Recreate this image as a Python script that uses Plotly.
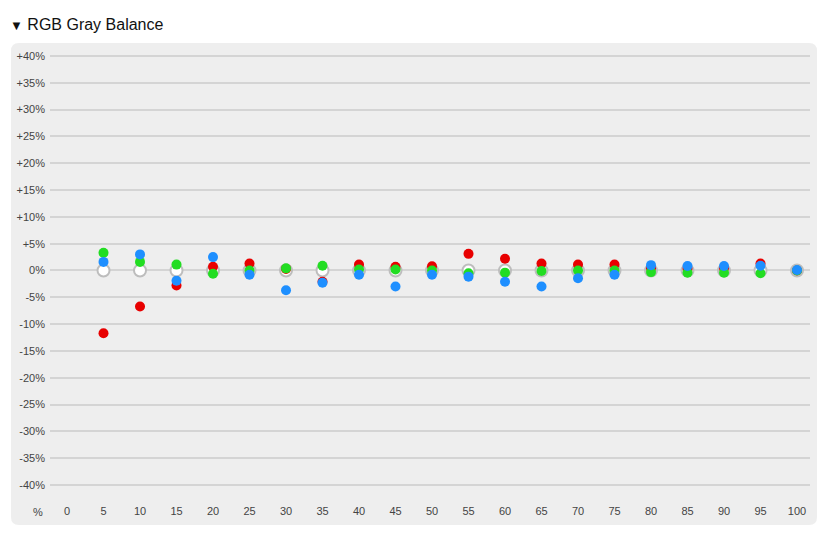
import plotly.graph_objects as go

# ---- data ----
x_ticks = [0, 5, 10, 15, 20, 25, 30, 35, 40, 45, 50, 55, 60, 65, 70, 75, 80, 85, 90, 95, 100]
levels = [5, 10, 15, 20, 25, 30, 35, 40, 45, 50, 55, 60, 65, 70, 75, 80, 85, 90, 95, 100]
reference = [0] * len(levels)
red = [-11.7, -6.7, -2.8, 0.7, 1.3, 0.3, -2.1, 1.1, 0.7, 0.8, 3.1, 2.2, 1.3, 1.1, 1.1, 0.4, 0.3, 0.4, 1.3, 0.0]
green = [3.3, 1.6, 1.1, -0.6, 0.0, 0.4, 0.9, 0.2, 0.2, 0.0, -0.5, -0.4, -0.1, 0.0, 0.0, -0.3, -0.4, -0.4, -0.5, 0.0]
blue = [1.6, 3.0, -1.9, 2.5, -0.8, -3.7, -2.3, -0.8, -3.0, -0.8, -1.15, -2.1, -3.0, -1.45, -0.8, 1.0, 0.85, 0.85, 0.9, 0.1]
y_ticks = [40, 35, 30, 25, 20, 15, 10, 5, 0, -5, -10, -15, -20, -25, -30, -35, -40]
y_labels = ["+40%", "+35%", "+30%", "+25%", "+20%", "+15%", "+10%", "+5%", "0%",
            "-5%", "-10%", "-15%", "-20%", "-25%", "-30%", "-35%", "-40%"]

W, H = 829, 538
L, R, T, B = 50, 19, 50, 35
pw, ph = W - L - R, H - T - B

def px_to_paper_x(px):
    return (px - L) / pw

def px_to_paper_y(py):
    return (H - B - py) / ph

# rounded panel background
x0, x1 = px_to_paper_x(11), px_to_paper_x(817)
y0, y1 = px_to_paper_y(525), px_to_paper_y(43)
rx, ry = 8 / pw, 8 / ph
path = (f"M {x0+rx},{y1} L {x1-rx},{y1} Q {x1},{y1} {x1},{y1-ry} "
        f"L {x1},{y0+ry} Q {x1},{y0} {x1-rx},{y0} "
        f"L {x0+rx},{y0} Q {x0},{y0} {x0},{y0+ry} "
        f"L {x0},{y1-ry} Q {x0},{y1} {x0+rx},{y1} Z")

fig = go.Figure()
fig.add_trace(go.Scatter(x=levels, y=reference, mode="markers", name="Reference",
                         marker=dict(size=12, color="white", line=dict(color="#bdbdbd", width=2)),
                         hoverinfo="skip"))
fig.add_trace(go.Scatter(x=levels, y=red, mode="markers", name="Red",
                         marker=dict(size=10, color="#e80000")))
fig.add_trace(go.Scatter(x=levels, y=green, mode="markers", name="Green",
                         marker=dict(size=10, color="#22dd22")))
fig.add_trace(go.Scatter(x=levels, y=blue, mode="markers", name="Blue",
                         marker=dict(size=10, color="#1e8fff")))

font = "Arial, Liberation Sans, sans-serif"
fig.update_layout(
    width=W, height=H,
    margin=dict(l=L, r=R, t=T, b=B),
    paper_bgcolor="white",
    plot_bgcolor="rgba(0,0,0,0)",
    showlegend=False,
    font=dict(family=font, size=11, color="#444"),
    title=dict(text="<span style='font-size:13px'>▼</span> RGB Gray Balance", x=10 / W, xanchor="left",
               xref="container", y=1 - 24 / H, yanchor="middle", yref="container",
               font=dict(family=font, size=16, color="#111")),
    xaxis=dict(range=[-2.33, 101.78], tickvals=x_ticks, ticktext=[str(v) for v in x_ticks],
               showgrid=False, zeroline=False, showline=False, ticks="",
               tickfont=dict(size=11, color="#444"), fixedrange=True),
    yaxis=dict(range=[-43.36, 41.12], tickvals=y_ticks, ticktext=y_labels,
               showgrid=True, gridcolor="#d4d4d4", gridwidth=1.5,
               zeroline=True, zerolinecolor="#d4d4d4", zerolinewidth=1.5,
               showline=False, ticks="", ticklabelstandoff=4,
               tickfont=dict(size=11, color="#444"), fixedrange=True),
    shapes=[dict(type="path", path=path, xref="paper", yref="paper",
                 fillcolor="#eeeeee", line=dict(width=0), layer="below")],
    annotations=[dict(text="%", xref="paper", yref="paper",
                      x=px_to_paper_x(38), y=px_to_paper_y(512),
                      xanchor="center", yanchor="middle", showarrow=False,
                      font=dict(size=11, color="#444"))],
)

fig.write_html("out.html", config={"displayModeBar": False},
               post_script="document.body.style.margin='0';")
